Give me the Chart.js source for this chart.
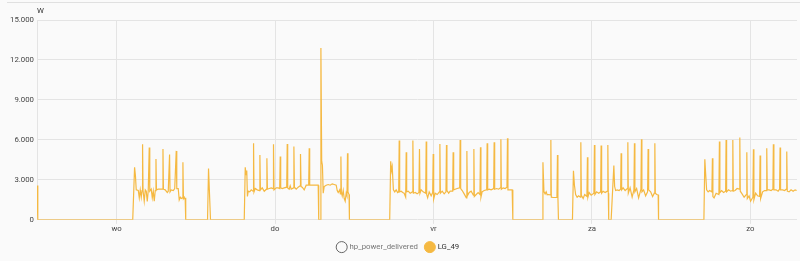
<!DOCTYPE html>
<html>
<head>
<meta charset="utf-8">
<script src="https://cdn.jsdelivr.net/npm/chart.js@4"></script>
<style>
  html, body { margin: 0; padding: 0; background: #fafafa; }
  #wrap { position: relative; width: 800px; height: 261px; }
  #divider { position: absolute; left: 7px; right: 0; top: 2px; border-top: 1px solid #e0e0e0; }
  #chart { position: absolute; left: 0; top: 0; }
</style>
</head>
<body>
<div id="wrap">
  <div id="divider"></div>
  <canvas id="chart" width="800" height="261"></canvas>
</div>
<script>
// hours since wednesday 00:00
const hours = [
  -12.05, -11.93, 2.45, 2.73, 2.86, 2.98, 3.29, 3.44, 3.59, 3.74,
  3.86, 3.94, 4.01, 4.19, 4.35, 4.50, 4.65, 4.80, 4.95, 5.03,
  5.25, 5.41, 5.56, 5.71, 5.86, 5.97, 6.04, 6.31, 6.62, 6.92,
  7.03, 7.10, 7.37, 7.68, 7.83, 8.03, 8.10, 8.28, 8.59, 8.81,
  9.04, 9.12, 9.34, 9.49, 9.65, 9.80, 9.98, 10.05, 10.13, 10.25,
  10.40, 10.46, 10.49,
  13.78, 13.93, 14.23, 19.34, 19.49, 19.61, 19.72, 19.82, 19.94, 20.17,
  20.40, 20.67, 20.75, 20.82, 21.00, 21.31, 21.64, 21.71, 21.79, 22.06,
  22.37, 22.70, 22.77, 22.85, 23.12, 23.43, 23.70, 23.77, 23.85, 24.18,
  24.48, 24.71, 24.79, 24.86, 25.09, 25.39, 25.77, 25.85, 25.92, 26.15,
  26.30, 26.45, 26.79, 26.86, 26.94, 27.21, 27.51, 27.79, 27.86, 27.94,
  28.12, 28.42, 28.72, 29.10, 29.18, 29.25, 29.63, 30.09, 30.54, 30.62,
  30.87, 30.95, 31.07, 31.18, 31.30, 31.45, 31.75, 32.06, 32.36, 32.66,
  32.96, 33.27, 33.42, 33.57, 33.80, 33.90, 33.98, 34.05, 34.18, 34.33,
  34.48, 34.63, 34.78, 34.90, 34.98, 35.05, 35.21, 35.27,
  41.37, 41.52, 41.63, 41.75, 41.93, 42.13, 42.35, 42.58, 42.73, 42.81,
  42.88, 43.11, 43.34, 43.56, 43.79, 43.87, 43.94, 44.17, 44.47, 44.81,
  44.88, 44.96, 45.23, 45.53, 45.80, 45.88, 45.96, 46.14, 46.44, 46.82,
  46.90, 46.97, 47.12, 47.35, 47.65, 47.88, 47.96, 48.03, 48.26, 48.56,
  48.89, 48.97, 49.05, 49.32, 49.62, 49.89, 49.97, 50.04, 50.30, 50.53,
  50.91, 50.98, 51.06, 51.29, 51.59, 51.97, 52.04, 52.12, 52.35, 52.65,
  52.98, 53.06, 53.13, 53.41, 53.71, 54.04, 54.12, 54.19, 54.47, 54.77,
  55.04, 55.12, 55.19, 55.37, 55.68, 56.06, 56.13, 56.21, 56.43, 56.74,
  57.12, 57.19, 57.27, 57.57, 57.87, 58.13, 58.21, 58.28, 58.55, 58.86,
  59.13, 59.21, 59.28, 59.46, 59.92, 60.02,
  64.46, 64.58, 64.73, 64.91, 65.07, 65.22, 65.37, 65.70, 65.78, 65.85,
  66.13, 66.43, 66.70, 66.78, 66.85, 66.93, 69.05, 69.20, 69.35, 69.53,
  69.76, 69.99, 70.24, 70.32, 70.40, 70.67, 70.90, 71.24, 71.32, 71.39,
  71.58, 71.88, 72.30, 72.38, 72.45, 72.71, 73.02, 73.32, 73.39, 73.47,
  73.70, 74.00, 74.33, 74.41, 74.48, 74.54, 74.91, 75.32, 75.44, 75.59,
  75.82, 76.12, 76.35, 76.42, 76.50, 76.72, 77.03, 77.36, 77.44, 77.51,
  77.78, 78.09, 78.36, 78.44, 78.51, 78.77, 79.07, 79.42, 79.50, 79.57,
  79.83, 80.13, 80.43, 80.51, 80.59, 80.89, 81.19, 81.45, 81.53, 81.60,
  81.80, 82.03, 82.09,
  88.96, 89.10, 89.22, 89.37, 89.60, 89.82, 90.17, 90.25, 90.32, 90.50,
  90.81, 91.23, 91.31, 91.38, 91.64, 91.94, 92.25, 92.32, 92.40, 92.70,
  93.00, 93.26, 93.34, 93.41, 93.68, 93.99, 94.32, 94.40, 94.47, 94.74,
  95.05, 95.38, 95.46, 95.53, 95.80, 96.03, 96.38, 96.46, 96.53, 96.79,
  97.09, 97.39, 97.47, 97.55, 97.85, 98.15, 98.41, 98.48, 98.56, 98.83,
  99.14, 99.41, 99.48, 99.56, 99.89, 100.20, 100.42, 100.50, 100.57, 100.88,
  101.18, 101.44, 101.51, 101.59, 101.86, 102.16, 102.47, 102.77, 103.00
];

// LG_49 power in W
const watts = [
  2570, 0, 0, 3950, 3300, 2250, 2200, 1650, 2250, 1700,
  2200, 5675, 2200, 1400, 2250, 2150, 1375, 2200, 5425, 2150,
  2300, 1650, 2150, 1400, 2200, 4575, 2250, 2300, 2300, 2300,
  5325, 2300, 2250, 2050, 2150, 4900, 2100, 2250, 2200, 2350,
  5175, 2350, 2350, 1500, 1700, 1600, 1650, 4325, 1600, 1700,
  1500, 1650, 0,
  0, 3850, 0, 0, 3950, 3400, 3700, 1750, 2150, 2100,
  2250, 2150, 5750, 2100, 2350, 2250, 2200, 4875, 2250, 2400,
  2150, 2300, 4625, 2300, 2350, 2400, 2350, 5675, 2250, 2400,
  2400, 2350, 4750, 2400, 2350, 2400, 2450, 5700, 2400, 2300,
  2550, 2300, 2400, 5500, 2450, 2300, 2450, 2550, 4950, 2500,
  2450, 2250, 2600, 2600, 5375, 2600, 2600, 2600, 2600, 0,
  0, 12900, 4400, 4100, 2000, 2500, 2600, 2650, 2600, 2700,
  2650, 2600, 2200, 2050, 2250, 1950, 4750, 2100, 1800, 2200,
  1600, 1400, 2000, 1800, 5000, 2100, 1900, 0,
  0, 4400, 3700, 4000, 2250, 2100, 2250, 2050, 2100, 5950,
  2100, 2150, 2050, 2000, 1700, 5075, 2100, 2150, 2000, 2100,
  5950, 2000, 2050, 1950, 2050, 5325, 2000, 2250, 2100, 2000,
  5875, 1900, 1650, 2100, 1800, 2050, 4950, 1550, 2000, 1900,
  2100, 5700, 2000, 2150, 1950, 2100, 5625, 2200, 2000, 2150,
  2150, 5075, 2250, 2300, 2350, 2400, 6000, 2350, 2200, 1950,
  1650, 5175, 1800, 2050, 2150, 1850, 5325, 1750, 1900, 2050,
  1900, 5450, 1700, 2100, 2200, 2250, 5750, 2250, 2300, 2250,
  2350, 5825, 2300, 2350, 2300, 2400, 6050, 2300, 2400, 2350,
  2450, 6125, 2250, 2250, 2250, 0,
  0, 4325, 2125, 1950, 2100, 1875, 1900, 1875, 6000, 1700,
  1675, 1675, 1675, 4875, 1650, 0, 0, 3675, 2600, 1900,
  1700, 1800, 1700, 5825, 1850, 1600, 1900, 1750, 4700, 1700,
  2050, 1850, 2000, 5625, 1900, 2100, 2000, 2100, 5575, 2000,
  2150, 2050, 2150, 5625, 2000, 0, 0, 4075, 2500, 2200,
  2250, 2200, 2300, 5000, 2250, 2400, 2200, 2350, 5825, 2000,
  2400, 1700, 2250, 5750, 2100, 2350, 1650, 2300, 6050, 2100,
  2250, 1800, 2100, 5325, 2250, 2100, 1750, 2000, 5750, 2000,
  1900, 1875, 0,
  0, 4550, 3500, 2250, 2100, 2200, 2100, 4625, 1750, 1650,
  2000, 1900, 5875, 2050, 2200, 2050, 2150, 6000, 2100, 2250,
  2150, 2200, 6000, 2150, 2200, 2350, 2300, 6175, 2150, 1950,
  1700, 1900, 5075, 1600, 1800, 1400, 1700, 5300, 1500, 2000,
  1800, 1750, 4825, 1600, 2100, 2200, 2200, 5375, 2250, 2250,
  2200, 2300, 5675, 2250, 2250, 2150, 2300, 5425, 2250, 2250,
  2200, 2300, 5125, 2150, 2100, 2250, 2150, 2250, 2200
];

const dayTicks = [0, 24, 48, 72, 96];
const dayLabels = ['wo', 'do', 'vr', 'za', 'zo'];
const yTicks = [0, 3000, 6000, 9000, 12000, 15000];
const seriesNames = ['hp_power_delivered', 'LG_49'];

const lineColor = '#f5b942';
const gridColor = '#e4e4e4';
const textColor = '#444';
const fontSize = 7.8;

function formatWatt(v) {
  return String(v).replace(/\B(?=(\d{3})+(?!\d))/g, '.');
}

const unitLabel = {
  id: 'unitLabel',
  afterDraw(chart) {
    const { ctx, chartArea } = chart;
    ctx.save();
    ctx.font = fontSize + 'px Roboto';
    ctx.fillStyle = '#333';
    ctx.textAlign = 'left';
    ctx.textBaseline = 'middle';
    ctx.fillText('W', chartArea.left, chartArea.top - 9);
    ctx.restore();
  }
};

new Chart(document.getElementById('chart'), {
  type: 'line',
  data: {
    datasets: [
      {
        label: seriesNames[0],
        data: [],
        hidden: true,
        borderColor: '#44739e',
        backgroundColor: '#44739e'
      },
      {
        label: seriesNames[1],
        data: hours.map((h, i) => ({ x: h, y: watts[i] })),
        borderColor: lineColor,
        backgroundColor: lineColor,
        borderWidth: 1.2,
        pointRadius: 0,
        tension: 0
      }
    ]
  },
  options: {
    responsive: false,
    animation: false,
    layout: { padding: { top: 20, right: 3, left: 0, bottom: 0 } },
    font: { family: 'Roboto', size: fontSize },
    scales: {
      x: {
        type: 'linear',
        min: -12.05,
        max: 103.06,
        afterBuildTicks: (scale) => { scale.ticks = dayTicks.map(v => ({ value: v })); },
        ticks: {
          color: textColor,
          font: { family: 'Roboto', size: fontSize },
          padding: 1,
          maxRotation: 0,
          callback: (v) => dayLabels[dayTicks.indexOf(v)]
        },
        grid: { color: gridColor, tickLength: 4 },
        border: { display: false }
      },
      y: {
        min: 0,
        max: 15000,
        afterBuildTicks: (scale) => { scale.ticks = yTicks.map(v => ({ value: v })); },
        afterFit: (scale) => { scale.width = 37; },
        ticks: {
          color: textColor,
          font: { family: 'Roboto', size: fontSize },
          padding: 3,
          callback: (v) => formatWatt(v)
        },
        grid: { color: gridColor, drawTicks: false },
        border: { color: gridColor }
      }
    },
    plugins: {
      tooltip: { enabled: false },
      legend: {
        position: 'bottom',
        labels: {
          usePointStyle: true,
          pointStyle: 'circle',
          padding: 8,
          font: { family: 'Roboto', size: fontSize },
          generateLabels: (chart) => chart.data.datasets.map((ds, i) => {
            const off = !chart.isDatasetVisible(i);
            return {
              text: ds.label,
              datasetIndex: i,
              hidden: false,
              fillStyle: off ? 'rgba(0,0,0,0)' : ds.borderColor,
              strokeStyle: off ? '#666' : ds.borderColor,
              lineWidth: 1,
              pointStyle: 'circle',
              fontColor: off ? '#777' : '#333'
            };
          })
        }
      }
    }
  },
  plugins: [unitLabel]
});
</script>
</body>
</html>
